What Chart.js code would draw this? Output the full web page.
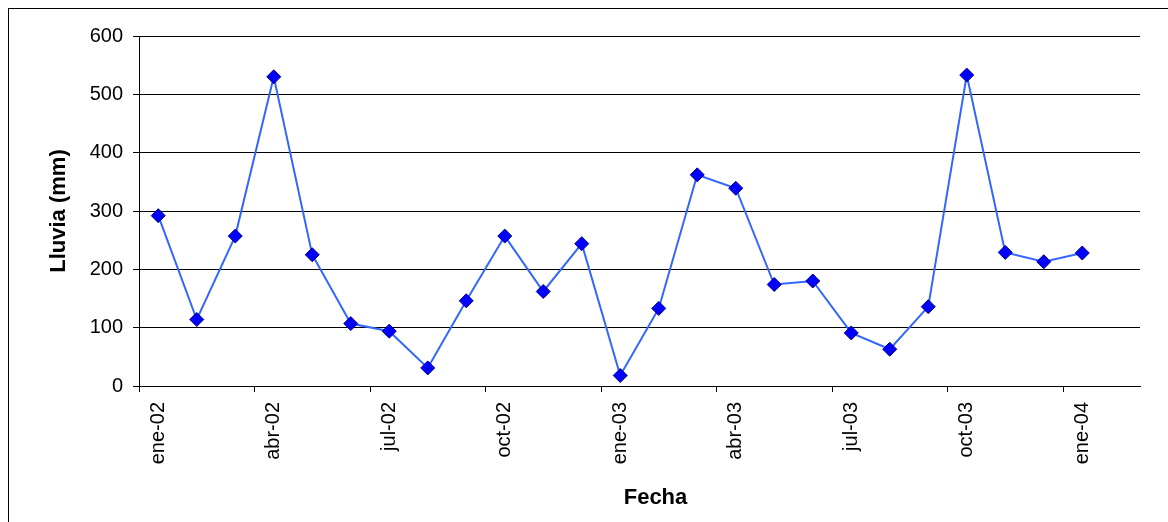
<!DOCTYPE html>
<html>
<head>
<meta charset="utf-8">
<script src="https://cdn.jsdelivr.net/npm/chart.js@4/dist/chart.umd.min.js"></script>
<style>
  html, body { margin: 0; padding: 0; background: #fff; overflow: hidden; }
  #frame { position: absolute; left: 8px; top: 8px; width: 1200px; height: 600px; border: 1px solid #000; }
  #wrap { position: absolute; left: 0; top: 0; width: 1168px; height: 522px; }
</style>
</head>
<body>
<div id="frame"></div>
<div id="wrap"><canvas id="c" width="1168" height="522"></canvas></div>
<script>
// Monthly rainfall, January 2002 to January 2004 (axis runs one month further)
const meses = ['ene-02','feb-02','mar-02','abr-02','may-02','jun-02','jul-02','ago-02','sep-02','oct-02','nov-02','dic-02',
               'ene-03','feb-03','mar-03','abr-03','may-03','jun-03','jul-03','ago-03','sep-03','oct-03','nov-03','dic-03',
               'ene-04','feb-04'];
const lluvia = [292, 114, 257, 530, 225, 107, 94, 31, 146, 257, 162, 244,
                18, 133, 362, 339, 174, 180, 91, 63, 136, 533, 229, 213,
                228, null];
const yTicks = [0, 100, 200, 300, 400, 500, 600];
const tituloX = 'Fecha';
const tituloY = 'Lluvia (mm)';

const black = '#000';
const clear = 'rgba(0,0,0,0)';
const family = 'Liberation Sans, Arial, sans-serif';

// Horizontal axis title, drawn a little right of the plot centre
const xTitlePlugin = {
  id: 'xTitle',
  afterDraw(chart) {
    const { ctx, chartArea } = chart;
    ctx.save();
    ctx.fillStyle = black;
    ctx.font = 'bold 22px ' + family;
    ctx.textAlign = 'center';
    ctx.textBaseline = 'middle';
    ctx.fillText(tituloX, (chartArea.left + chartArea.right) / 2 + 16, 498);
    ctx.restore();
  }
};

new Chart(document.getElementById('c'), {
  type: 'line',
  data: {
    labels: meses,
    datasets: [{
      data: lluvia,
      borderColor: '#3366FF',
      borderWidth: 2,
      tension: 0,
      pointStyle: 'rectRot',
      pointRadius: 7,
      pointBackgroundColor: '#0000FF',
      pointBorderColor: '#000080',
      pointBorderWidth: 1,
      spanGaps: false
    }]
  },
  plugins: [xTitlePlugin],
  options: {
    responsive: false,
    animation: false,
    devicePixelRatio: 1,
    layout: { padding: { left: 42, top: 36, right: 28, bottom: 0 } },
    plugins: { legend: { display: false }, tooltip: { enabled: false } },
    scales: {
      x: {
        type: 'category',
        offset: true,
        afterFit: s => { s.height = 136; },
        grid: {
          offset: true,
          drawOnChartArea: false,
          drawTicks: true,
          tickLength: 6,
          color: ctx => (ctx.type === 'tick' && ctx.index % 3 === 0) ? black : clear,
          tickColor: ctx => (ctx.type === 'tick' && ctx.index % 3 === 0) ? black : clear
        },
        border: { color: black, width: 1 },
        ticks: {
          autoSkip: false,
          minRotation: 90,
          maxRotation: 90,
          padding: 10,
          color: black,
          font: { family: family, size: 20 },
          callback: function (v, i) { return i % 3 === 0 ? meses[i] : ''; }
        }
      },
      y: {
        min: 0,
        max: 600,
        afterFit: s => { s.width = 97; },
        afterBuildTicks: s => { s.ticks = yTicks.map(v => ({ value: v })); },
        grid: { color: black, lineWidth: 1, tickLength: 6, tickColor: black },
        border: { color: black, width: 1 },
        ticks: {
          padding: 10,
          color: black,
          font: { family: family, size: 20 }
        },
        title: {
          display: true,
          text: tituloY,
          color: black,
          font: { family: family, size: 22, weight: 'bold' },
          padding: { top: 4, bottom: 4 }
        }
      }
    }
  }
});
</script>
</body>
</html>
